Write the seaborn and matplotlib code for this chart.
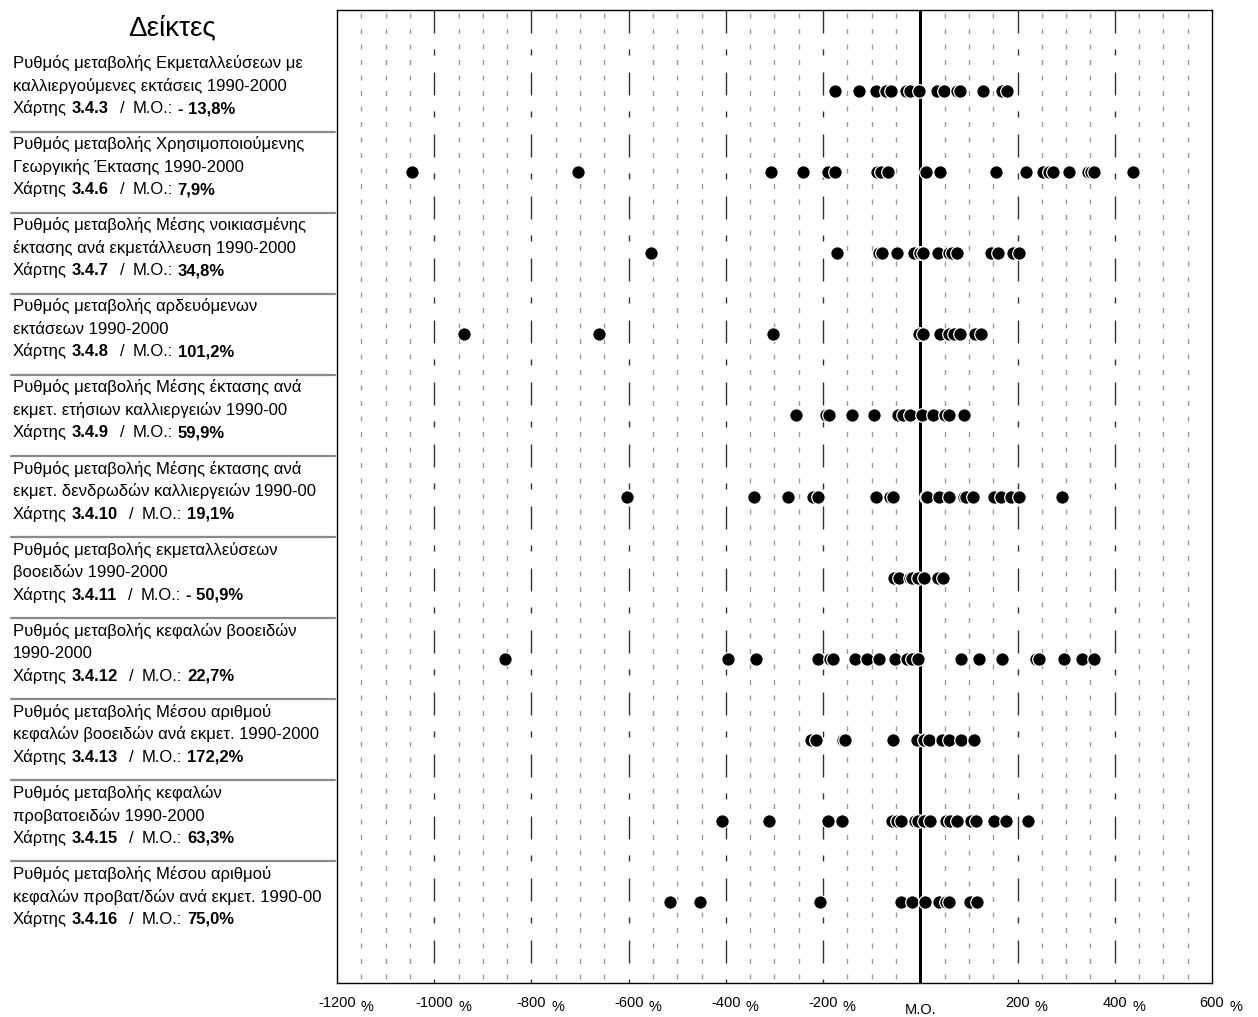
import numpy as np
import pandas as pd
import matplotlib
matplotlib.use("Agg")
import matplotlib.pyplot as plt
import seaborn as sns
from matplotlib.transforms import blended_transform_factory

# ---------------- data ----------------
label_line1 = [
    "Ρυθμός μεταβολής Εκμεταλλεύσεων με",
    "Ρυθμός μεταβολής Χρησιμοποιούμενης",
    "Ρυθμός μεταβολής Μέσης νοικιασμένης",
    "Ρυθμός μεταβολής αρδευόμενων",
    "Ρυθμός μεταβολής Μέσης έκτασης ανά",
    "Ρυθμός μεταβολής Μέσης έκτασης ανά",
    "Ρυθμός μεταβολής εκμεταλλεύσεων",
    "Ρυθμός μεταβολής κεφαλών βοοειδών",
    "Ρυθμός μεταβολής Μέσου αριθμού",
    "Ρυθμός μεταβολής κεφαλών",
    "Ρυθμός μεταβολής Μέσου αριθμού",
]
label_line2 = [
    "καλλιεργούμενες εκτάσεις 1990-2000",
    "Γεωργικής Έκτασης 1990-2000",
    "έκτασης ανά εκμετάλλευση 1990-2000",
    "εκτάσεων 1990-2000",
    "εκμετ. ετήσιων καλλιεργειών 1990-00",
    "εκμετ. δενδρωδών καλλιεργειών 1990-00",
    "βοοειδών 1990-2000",
    "1990-2000",
    "κεφαλών βοοειδών ανά εκμετ. 1990-2000",
    "προβατοειδών 1990-2000",
    "κεφαλών προβατ/δών ανά εκμετ. 1990-00",
]
map_codes = ["3.4.3", "3.4.6", "3.4.7", "3.4.8", "3.4.9", "3.4.10",
             "3.4.11", "3.4.12", "3.4.13", "3.4.15", "3.4.16"]
mean_labels = ["- 13,8%", "7,9%", "34,8%", "101,2%", "59,9%", "19,1%",
               "- 50,9%", "22,7%", "172,2%", "63,3%", "75,0%"]

r_343 = [-175, -127, -92, -70, -60, -30, -22, -2, 35, 49, 76, 82, 129, 168, 178]
r_346 = [-1045, -705, -308, -242, -189, -176, -89, -80, -67, 12, 40, 155, 217,
         253, 265, 273, 305, 345, 352, 358, 438]
r_347 = [-554, -171, -85, -78, -48, -14, -1, 5, 36, 58, 65, 75, 146, 159, 191, 202]
r_348 = [-939, -661, -304, -3, 5, 41, 58, 69, 82, 113, 124]
r_349 = [-255, -194, -187, -140, -96, -45, -36, -22, 4, 26, 50, 58, 90]
r_3410 = [-604, -343, -273, -221, -211, -92, -63, -56, 12, 14, 38, 58, 90, 93,
          108, 152, 165, 186, 202, 292]
r_3411 = [-54, -43, -21, -17, -5, 8, 36, 47]
r_3412 = [-855, -396, -339, -211, -185, -179, -135, -110, -84, -53, -27, -17, -5,
          84, 120, 169, 237, 244, 296, 332, 358]
r_3413 = [-225, -214, -159, -154, -56, -6, 7, 17, 45, 58, 84, 110]
r_3415 = [-409, -312, -189, -162, -59, -47, -40, -10, -4, 7, 19, 52, 61, 75,
          104, 115, 152, 177, 222]
r_3416 = [-515, -453, -206, -39, -17, 10, 38, 53, 60, 102, 117]

row_values = [r_343, r_346, r_347, r_348, r_349, r_3410, r_3411, r_3412,
              r_3413, r_3415, r_3416]

tick_values = [-1200, -1000, -800, -600, -400, -200, 0, 200, 400, 600]
tick_labels = ["-1200", "-1000", "-800", "-600", "-400", "-200", "Μ.Ο.", "200", "400", "600"]

rows = []
for i, vals in enumerate(row_values):
    for v in vals:
        rows.append({"row": i + 1, "value": v})
df = pd.DataFrame(rows)

# ---------------- style ----------------
sns.set_theme(style="white")
plt.rcParams["font.family"] = ["Liberation Sans", "DejaVu Sans"]
plt.rcParams["lines.scale_dashes"] = False
plt.rcParams["text.color"] = "black"

W, H = 1258, 1017
fig = plt.figure(figsize=(W / 100, H / 100), dpi=100)
ax_left, ax_right, ax_top, ax_bottom = 337, 1212, 10, 983
ax = fig.add_axes([ax_left / W, 1 - ax_bottom / H,
                   (ax_right - ax_left) / W, (ax_bottom - ax_top) / H])

px = 0.72  # points per pixel
# minor grid
for x in range(-1150, 600, 50):
    if x % 200 == 0:
        continue
    ax.plot([x, x], [0, 12], color="#9a9a9a", lw=1.0,
            linestyle=(9, (5 * px, 10.5 * px)), zorder=1)
# major grid
for x in range(-1000, 600, 200):
    if x == 0:
        continue
    ax.plot([x, x], [0, 12], color="#333333", lw=1.0,
            linestyle=(0, (23 * px, 16 * px, 6 * px, 17 * px)), zorder=1)
ax.axvline(0, color="black", lw=2.2, zorder=2)

sns.scatterplot(data=df, x="value", y="row", ax=ax, color="black",
                edgecolor="white", linewidth=0.9, s=95, zorder=3, legend=False)

ax.set_xlim(-1200, 600)
ax.set_ylim(12, 0)
ax.set_xlabel("")
ax.set_ylabel("")
ax.set_yticks([])
ax.set_xticks(tick_values)
ax.set_xticklabels([])
ax.tick_params(axis="x", length=0)
for sp in ax.spines.values():
    sp.set_visible(True)
    sp.set_color("black")
    sp.set_linewidth(1.0)

# x tick labels with lowered % signs
for t, lab in zip(tick_values, tick_labels):
    if lab == "Μ.Ο.":
        ax.annotate(lab, xy=(t, 0), xycoords=("data", "axes fraction"),
                    xytext=(0, -27 * px), textcoords="offset points",
                    ha="center", va="center", fontsize=10.5, color="black",
                    annotation_clip=False)
        continue
    tn = ax.annotate(lab, xy=(t, 0), xycoords=("data", "axes fraction"),
                     xytext=(0, -20 * px), textcoords="offset points",
                     ha="center", va="center", fontsize=10.5, color="black",
                     annotation_clip=False)
    ax.annotate("%", xy=(1, 0), xycoords=tn, xytext=(5 * px, -4 * px),
                textcoords="offset points", ha="left", va="bottom",
                fontsize=10.5, color="black", annotation_clip=False)

# left panel
tr = blended_transform_factory(fig.transFigure, ax.transData)
fig.text(172 / W, 1 - 35 / H, "Δείκτες", ha="center", va="baseline",
         fontsize=20, color="black")

x0 = 13 / W
fs = 12
for i in range(11):
    y = i + 1
    fig.text(x0, y - 0.345, label_line1[i], transform=tr, ha="left", va="center",
             fontsize=fs, color="black")
    fig.text(x0, y - 0.065, label_line2[i], transform=tr, ha="left", va="center",
             fontsize=fs, color="black")
    t1 = fig.text(x0, y + 0.21, "Χάρτης", transform=tr, ha="left", va="center",
                  fontsize=fs, color="black")
    t2 = ax.annotate(map_codes[i], xy=(1, 0), xycoords=t1, xytext=(5 * px, 0),
                     textcoords="offset points", ha="left", va="bottom",
                     fontsize=fs, fontweight="bold", color="black",
                     annotation_clip=False)
    t3 = ax.annotate("/", xy=(1, 0), xycoords=t2, xytext=(11 * px, 0),
                     textcoords="offset points", ha="left", va="bottom",
                     fontsize=fs, color="black", annotation_clip=False)
    t4 = ax.annotate("Μ.Ο.:", xy=(1, 0), xycoords=t3, xytext=(8 * px, 0),
                     textcoords="offset points", ha="left", va="bottom",
                     fontsize=fs, color="black", annotation_clip=False)
    ax.annotate(mean_labels[i], xy=(1, 0), xycoords=t4, xytext=(5 * px, 0),
                textcoords="offset points", ha="left", va="bottom",
                fontsize=fs, fontweight="bold", color="black",
                annotation_clip=False)
    if i < 10:
        yy = y + 0.5
        fig.add_artist(plt.Line2D([11 / W, 335 / W], [yy, yy], transform=tr,
                                  color="#8a8a8a", lw=1.6))

fig.savefig("out.png", dpi=100)
